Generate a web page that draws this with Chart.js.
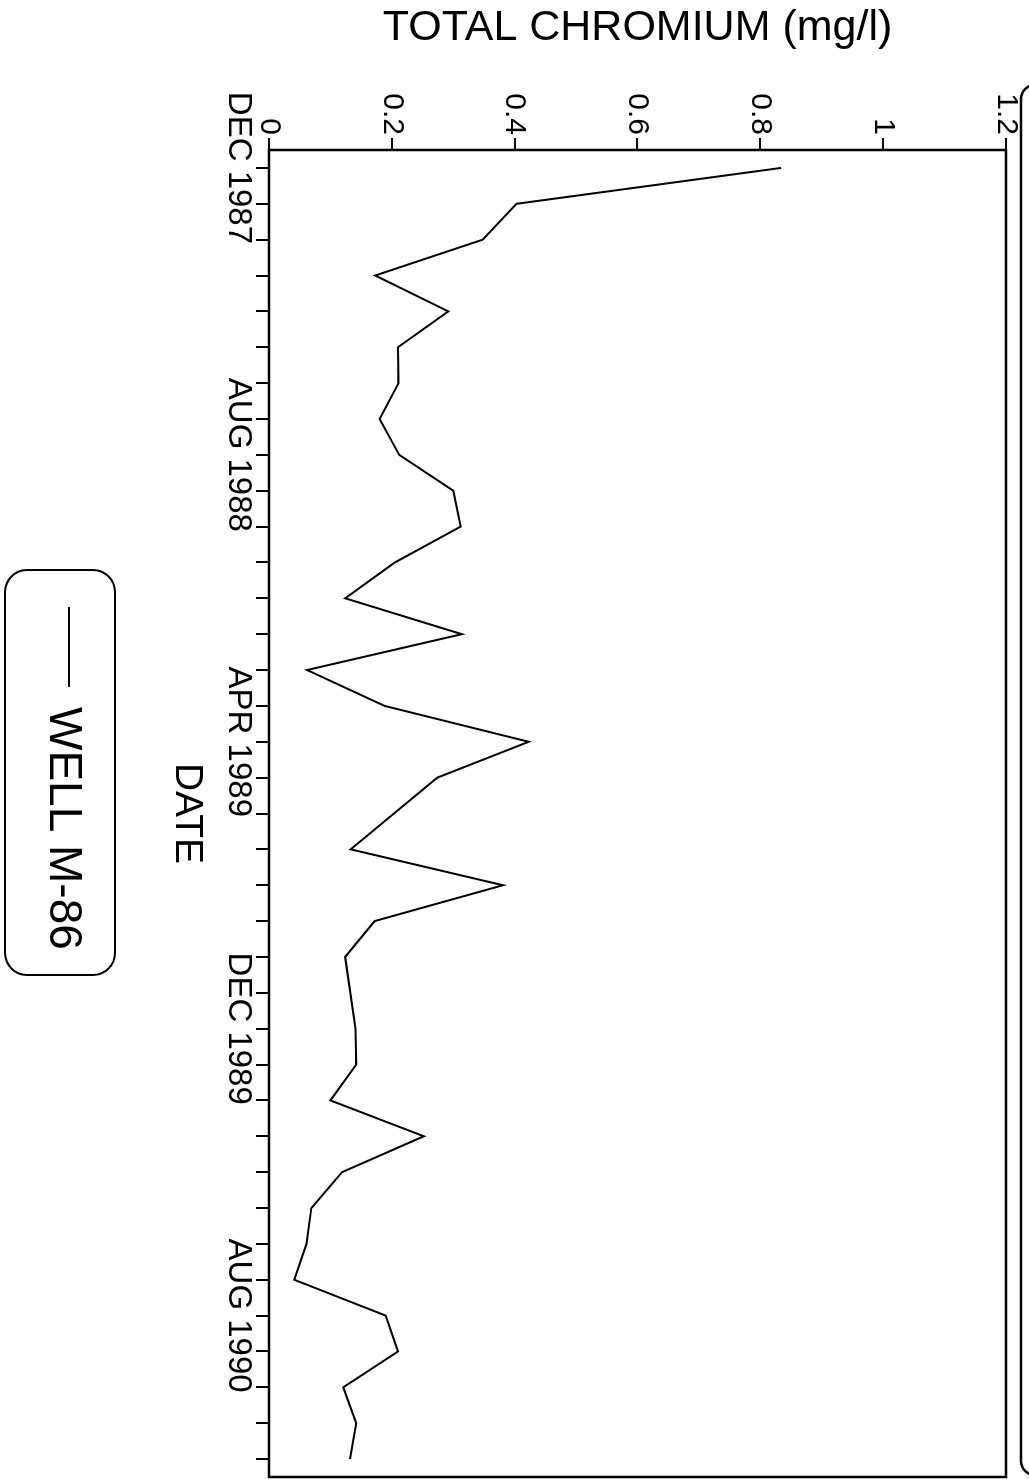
<!DOCTYPE html>
<html>
<head>
<meta charset="utf-8">
<script src="https://cdn.jsdelivr.net/npm/chart.js@4/dist/chart.umd.min.js"></script>
<style>
  html, body { margin: 0; padding: 0; background: #fff; overflow: hidden; }
  #wrap {
    position: absolute; left: 0; top: 0;
    width: 1479px; height: 1029px;
    transform-origin: top left;
    transform: translate(1029px, 0) rotate(90deg);
  }
</style>
</head>
<body>
<div id="wrap"><canvas id="chart" width="1479" height="1029"></canvas></div>
<script>
// months counted from DEC 1987
const months = [0, 1, 2, 3, 4, 5, 6, 7, 8, 9, 10, 11, 12, 13, 14, 15, 16, 17,
                19, 20, 21, 22, 24, 25, 26, 27, 28, 29, 30, 31, 32, 33, 34, 35, 36];
const chromium = [0.834, 0.403, 0.348, 0.173, 0.292, 0.210, 0.211, 0.180, 0.212, 0.300,
                  0.312, 0.205, 0.124, 0.314, 0.062, 0.188, 0.423, 0.274,
                  0.133, 0.381, 0.172, 0.124, 0.141, 0.142, 0.100, 0.252, 0.119,
                  0.069, 0.061, 0.041, 0.190, 0.210, 0.121, 0.142, 0.132];

const labelMonths = [0, 8, 16, 24, 32];
const tickLabels = ["DEC 1987", "AUG 1988", "APR 1989", "DEC 1989", "AUG 1990"];
const yTicks = [0, 0.2, 0.4, 0.6, 0.8, 1, 1.2];

const monthTicks = [];
for (let m = 0; m <= 36; m++) monthTicks.push(m);

Chart.defaults.font.family = '"Liberation Sans", Arial, sans-serif';
Chart.defaults.color = "#000";

// box around plot, outer page frame and the rounded legend
const framePlugin = {
    id: "frame",
    afterDraw(chart) {
        const ctx = chart.ctx;
        const a = chart.chartArea;
        ctx.save();
        ctx.strokeStyle = "#000";
        ctx.lineWidth = 2.5;
        ctx.strokeRect(a.left, a.top, a.right - a.left, a.bottom - a.top);

        // page frame edge
        ctx.beginPath();
        ctx.roundRect(85, -60, 1390, 68, 14);
        ctx.stroke();

        // legend
        const ds = chart.data.datasets[0];
        ctx.lineWidth = 2;
        ctx.beginPath();
        ctx.roundRect(570, 914, 405, 110, 22);
        ctx.stroke();
        ctx.strokeStyle = ds.borderColor;
        ctx.beginPath();
        ctx.moveTo(607, 960);
        ctx.lineTo(687, 960);
        ctx.stroke();
        ctx.fillStyle = "#000";
        ctx.font = '46px "Liberation Sans", Arial, sans-serif';
        ctx.textBaseline = "middle";
        ctx.fillText(ds.label, 707, 966);
        ctx.restore();
    }
};

new Chart(document.getElementById("chart"), {
    type: "line",
    data: {
        datasets: [{
            label: "WELL M-86",
            data: months.map((m, i) => ({x: m, y: chromium[i]})),
            borderColor: "#000",
            borderWidth: 2,
            pointRadius: 0,
            tension: 0,
            fill: false
        }]
    },
    options: {
        responsive: false,
        animation: false,
        layout: { padding: {top: 23, right: 2, bottom: 159, left: 0} },
        plugins: { legend: {display: false}, tooltip: {enabled: false} },
        scales: {
            x: {
                type: "linear",
                min: -0.5,
                max: 36.5,
                afterBuildTicks: (scale) => { scale.ticks = monthTicks.map(v => ({value: v})); },
                afterFit: (scale) => { scale.height = 110; },
                grid: { drawOnChartArea: false, tickLength: 13, color: "#000", lineWidth: 2 },
                border: { display: false },
                ticks: {
                    autoSkip: false,
                    maxRotation: 0,
                    minRotation: 0,
                    padding: 0,
                    font: { size: 33, lineHeight: 1.1 },
                    callback: (value) => {
                        const i = labelMonths.indexOf(value);
                        return i >= 0 ? tickLabels[i] : "";
                    }
                },
                title: { display: true, text: "DATE", font: { size: 39 }, padding: {top: 0, bottom: 4} }
            },
            y: {
                min: 0,
                max: 1.2,
                afterBuildTicks: (scale) => { scale.ticks = yTicks.map(v => ({value: v})); },
                afterFit: (scale) => { scale.width = 150; },
                grid: { drawOnChartArea: false, tickLength: 12, color: "#000", lineWidth: 2 },
                border: { display: false },
                ticks: {
                    padding: 3,
                    font: { size: 30 },
                    callback: (value) => String(value)
                },
                title: { display: true, text: "TOTAL CHROMIUM (mg/l)", font: { size: 43 }, padding: {top: 2, bottom: 0} }
            }
        }
    },
    plugins: [framePlugin]
});
</script>
</body>
</html>
